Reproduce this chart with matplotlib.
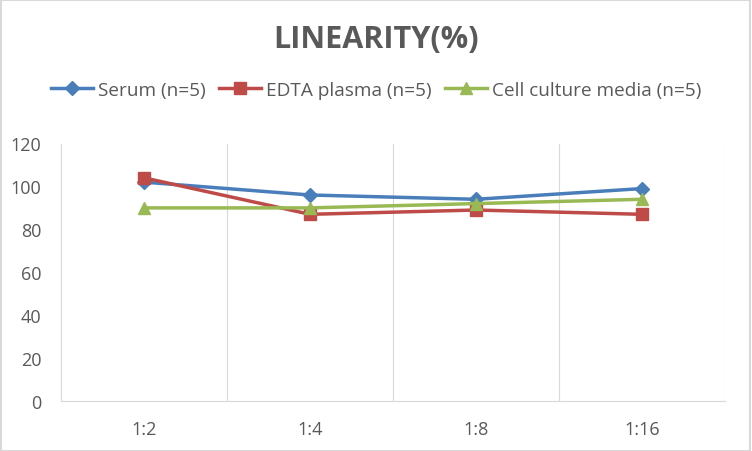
import matplotlib
matplotlib.use("Agg")
import matplotlib.pyplot as plt
from matplotlib.patches import Rectangle

categories = ["1:2", "1:4", "1:8", "1:16"]
serum = [102, 96, 94, 99]
edta = [104, 87, 89, 87]
cell = [90, 90, 92, 94]
yticks = [0, 20, 40, 60, 80, 100, 120]

plt.rcParams['font.family'] = ['Open Sans', 'DejaVu Sans']

fig = plt.figure(figsize=(7.52, 4.52), dpi=100)
ax = fig.add_axes([61/752, 1-402/452, (725-61)/752, (402-144.5)/452])

x = list(range(len(categories)))
ax.plot(x, serum, color="#4A7EBB", lw=2.5, marker="D", ms=7, label="Serum (n=5)")
ax.plot(x, edta, color="#BE4B48", lw=2.5, marker="s", ms=9, label="EDTA plasma (n=5)")
ax.plot(x, cell, color="#98B954", lw=2.5, marker="^", ms=9, label="Cell culture media (n=5)")

ax.set_xlim(-0.5, len(categories) - 0.5)
ax.set_ylim(0, 120)
ax.set_yticks(yticks)
ax.set_xticks(x)
ax.set_xticklabels(categories)
for b in [i + 0.5 for i in x]:
    ax.axvline(b, color="#D9D9D9", lw=0.8, zorder=0)

for s in ["top", "right"]:
    ax.spines[s].set_visible(False)
ax.spines["left"].set_color("#D9D9D9")
ax.spines["bottom"].set_color("#D9D9D9")
ax.tick_params(axis="both", length=0, colors="#595959", labelsize=13)
ax.tick_params(axis="x", pad=14)
ax.tick_params(axis="y", pad=14)

fig.text(0.5, 1-40/452, "LINEARITY(%)", ha="center", va="center",
         fontsize=22, fontweight="bold", color="#595959")
leg = fig.legend(loc="center", bbox_to_anchor=(0.5, 1-91/452), ncol=3, frameon=False,
                 fontsize=13.7, handlelength=2.2, columnspacing=0.7, handletextpad=0.27,
                 labelcolor="#595959")

fig.patches.append(Rectangle((0.001, 0.001), 0.997, 0.996, transform=fig.transFigure,
                             fill=False, edgecolor="#D9D9D9", lw=1.5))
fig.savefig("out.png", dpi=100)
